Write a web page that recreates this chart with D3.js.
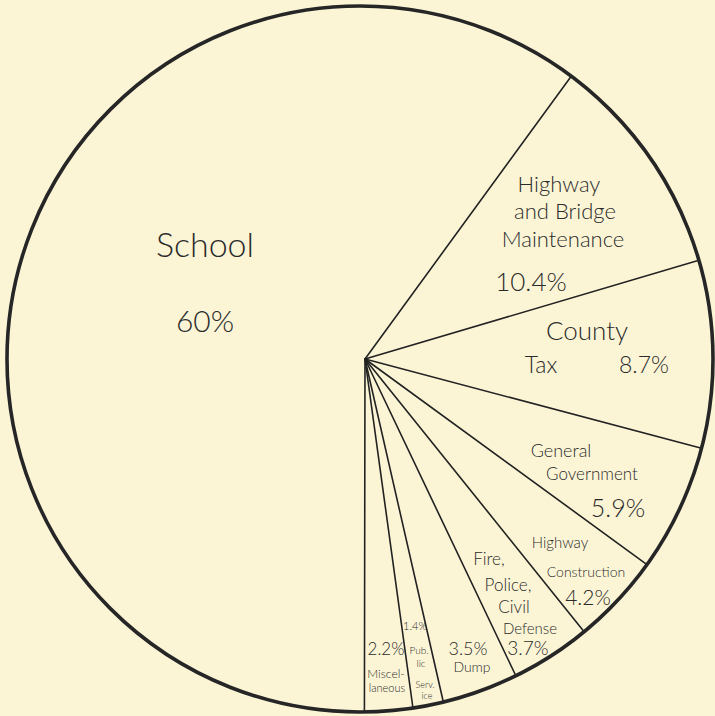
<!DOCTYPE html>
<html>
<head>
<meta charset="utf-8">
<script src="https://cdn.jsdelivr.net/npm/d3@7"></script>
<style>
  html,body{margin:0;padding:0;background:#fbf5d6;}
  svg{display:block;}
  text{font-family:"Lato","Open Sans",sans-serif;font-weight:300;fill:#2b2b2b;}
</style>
</head>
<body>
<svg id="viz" width="715" height="716"></svg>
<script>
// categories, clockwise from the top-right edge of the School slice
const categories = ["Highway and Bridge Maintenance","County Tax","General Government","Highway Construction",
  "Fire, Police, Civil Defense","Dump","Public Service","Miscellaneous","School"];
const shares = [10.4, 8.7, 5.9, 4.2, 3.7, 3.5, 1.4, 2.2, 60];
const pctLabels = ["10.4%","8.7%","5.9%","4.2%","3.7%","3.5%","1.4%","2.2%","60%"];

// hand lettering, line by line: [text, x, baseline y, size]
const lettering = [
  ["School",205,257,34],["60%",205,332,30],
  ["Highway",559,192,22],["and Bridge",565,219,22],["Maintenance",563,247,22],["10.4%",531,291,26],
  ["County",587,340,26],["Tax",541,373,23],["8.7%",644,373,23],
  ["General",561,457,18],["Government",592,480,17],["5.9%",618,517,25],
  ["Highway",560,548,15],["Construction",586,577,14],["4.2%",588,605,21],
  ["Fire,",489,565,17],["Police,",508,591,17],["Civil",514,613,17],["Defense",530,634,15],["3.7%",528,655,19],
  ["3.5%",468,655,18],["Dump",472,672,14],
  ["1.4%",415,630,11],["Pub.",419,654,10],["lic",421,667,10],["Serv.",425,688,9],["ice",427,699,9],
  ["2.2%",386,655,17],["Miscel-",386,678,12],["laneous",387,692,11]
];

const svg = d3.select("#viz");
const rim = {cx:360, cy:359, r:353};   // the drawn circle
const hub = {x:365, y:359};            // where the spokes meet

const pie = d3.pie().sort(null).value(d=>d)
  .startAngle(0.63).endAngle(0.63 + 2*Math.PI);
const arcs = pie(shares);

// ray from hub hitting the rim (angle measured clockwise from 12 o'clock)
function rimPoint(a){
  const dx = Math.sin(a), dy = -Math.cos(a);
  const ox = hub.x - rim.cx, oy = hub.y - rim.cy;
  const b = ox*dx + oy*dy, c = ox*ox + oy*oy - rim.r*rim.r;
  const t = -b + Math.sqrt(b*b - c);
  return [hub.x + t*dx, hub.y + t*dy];
}

svg.append("g").selectAll("line").data(arcs).join("line")
  .attr("x1",hub.x).attr("y1",hub.y)
  .attr("x2",d=>rimPoint(d.startAngle)[0]).attr("y2",d=>rimPoint(d.startAngle)[1])
  .attr("stroke","#222").attr("stroke-width",1.6).attr("stroke-linecap","round");

svg.append("circle").attr("cx",rim.cx).attr("cy",rim.cy).attr("r",rim.r)
  .attr("fill","none").attr("stroke","#262626").attr("stroke-width",3.6);

svg.append("g").selectAll("text").data(lettering).join("text")
  .attr("x",d=>d[1]).attr("y",d=>d[2]).attr("font-size",d=>d[3])
  .attr("text-anchor","middle").text(d=>d[0]);
</script>
</body>
</html>
